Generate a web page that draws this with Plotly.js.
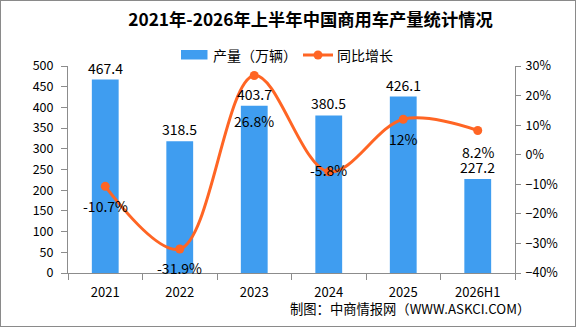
<!DOCTYPE html>
<html>
<head>
<meta charset="utf-8">
<script src="https://cdn.plot.ly/plotly-3.0.1.min.js"></script>
<style>
  html, body { margin: 0; padding: 0; background: #fff; }
  #wrap { position: relative; width: 576px; height: 327px; }
  #chart { width: 576px; height: 327px; }
  #frame { position: absolute; left: 0; top: 0; width: 576px; height: 327px;
           box-sizing: border-box; border: 1px solid #8a8a8a; pointer-events: none; }
</style>
</head>
<body>
<div id="wrap">
  <div id="chart"></div>
  <div id="frame"></div>
</div>
<script>
// 2021-2026H1 commercial vehicle output (10k units) and year-on-year growth (%)
const years = ['2021', '2022', '2023', '2024', '2025', '2026H1'];
const output = [467.4, 318.5, 403.7, 380.5, 426.1, 227.2];
const growth = [-10.7, -31.9, 26.8, -5.8, 12, 8.2];
const seriesNames = ['产量（万辆）', '同比增长'];

const FONT = '"Noto Sans CJK SC", "Noto Sans", sans-serif';
const BLUE = '#3f9df0';
const ORANGE = '#ff6524';
const AXIS = '#8c8c8c';

// plot-area geometry (pixels) used to place the hand-drawn legend
const M = { l: 68, r: 61, t: 66, b: 54 };
const W = 576, H = 327;
const PW = W - M.l - M.r, PH = H - M.t - M.b;
const px = v => (v - M.l) / PW;
const py = v => (H - M.b - v) / PH;

// vertical pixel offsets for the growth labels relative to their points
const growthLabelShift = [-20, -19, -46, 2, -20, -22];

const annotations = [];
years.forEach((yr, i) => {
  // category axes take the category index for annotation positions
  annotations.push({
    x: i, y: output[i], xref: 'x', yref: 'y',
    text: output[i].toFixed(1), showarrow: false,
    yanchor: 'bottom', yshift: 1, borderpad: 0,
    font: { family: FONT, size: 14, color: '#000' }
  });
  annotations.push({
    x: i, y: growth[i], xref: 'x', yref: 'y2',
    text: growth[i] + '%', showarrow: false,
    yanchor: 'middle', yshift: growthLabelShift[i], borderpad: 0,
    font: { family: FONT, size: 14, color: '#000' }
  });
});

// source note
annotations.push({
  xref: 'paper', yref: 'paper', x: px(532), y: py(308),
  xanchor: 'right', yanchor: 'middle', showarrow: false,
  text: '制图：中商情报网（WWW.ASKCI.COM）',
  font: { family: FONT, size: 13.3, color: '#000' }
});

// legend labels
annotations.push({
  xref: 'paper', yref: 'paper', x: px(211), y: py(55),
  xanchor: 'left', yanchor: 'middle', showarrow: false,
  text: seriesNames[0], font: { family: FONT, size: 14, color: '#000' }
});
annotations.push({
  xref: 'paper', yref: 'paper', x: px(335), y: py(55),
  xanchor: 'left', yanchor: 'middle', showarrow: false,
  text: seriesNames[1], font: { family: FONT, size: 14, color: '#000' }
});

// legend keys
const shapes = [
  { type: 'rect', xref: 'paper', yref: 'paper',
    x0: px(181), x1: px(207.5), y0: py(59.5), y1: py(50),
    fillcolor: BLUE, line: { width: 0 } },
  { type: 'line', xref: 'paper', yref: 'paper',
    x0: px(303), x1: px(333), y0: py(55), y1: py(55),
    line: { color: ORANGE, width: 3 } },
  { type: 'circle', xref: 'paper', yref: 'paper',
    x0: px(313.5), x1: px(322.5), y0: py(59.5), y1: py(50.5),
    fillcolor: ORANGE, line: { width: 0 } }
];

const traces = [
  {
    type: 'bar', name: seriesNames[0], x: years, y: output,
    marker: { color: BLUE }, hoverinfo: 'skip'
  },
  {
    type: 'scatter', mode: 'lines+markers', name: seriesNames[1],
    x: years, y: growth, yaxis: 'y2',
    line: { color: ORANGE, width: 3, shape: 'spline', smoothing: 1 },
    marker: { color: ORANGE, size: 9 }, hoverinfo: 'skip'
  }
];

const layout = {
  width: W, height: H,
  margin: M,
  paper_bgcolor: '#fff', plot_bgcolor: '#fff',
  font: { family: FONT, size: 13, color: '#000' },
  title: {
    text: '<b>2021年-2026年上半年中国商用车产量统计情况</b>',
    xref: 'container', yref: 'container', x: 310.5 / W, y: 1 - 20 / H,
    xanchor: 'center', yanchor: 'middle',
    font: { family: FONT, size: 17.3, color: '#000' }
  },
  bargap: 0.64,
  showlegend: false,
  xaxis: {
    type: 'category', tickson: 'boundaries', range: [-0.5, 5.5],
    showline: true, linecolor: AXIS, linewidth: 1,
    ticks: 'outside', ticklen: 6, tickcolor: AXIS,
    ticklabelstandoff: 7,
    showgrid: false, zeroline: false,
    tickfont: { family: FONT, size: 13, color: '#000' }
  },
  yaxis: {
    range: [0, 500], dtick: 50,
    showline: true, linecolor: AXIS, linewidth: 1,
    ticks: 'outside', ticklen: 6, tickcolor: AXIS,
    ticklabelstandoff: 5,
    showgrid: false, zeroline: false,
    tickfont: { family: FONT, size: 12.5, color: '#000' }
  },
  yaxis2: {
    overlaying: 'y', side: 'right',
    range: [-40, 30], dtick: 10, ticksuffix: '%',
    showline: true, linecolor: AXIS, linewidth: 1,
    ticks: 'outside', ticklen: 5, tickcolor: AXIS,
    ticklabelstandoff: 2,
    showgrid: false, zeroline: false,
    tickfont: { family: FONT, size: 12.5, color: '#000' }
  },
  shapes: shapes,
  annotations: annotations
};

Plotly.newPlot('chart', traces, layout, { staticPlot: true, displayModeBar: false });
</script>
</body>
</html>
